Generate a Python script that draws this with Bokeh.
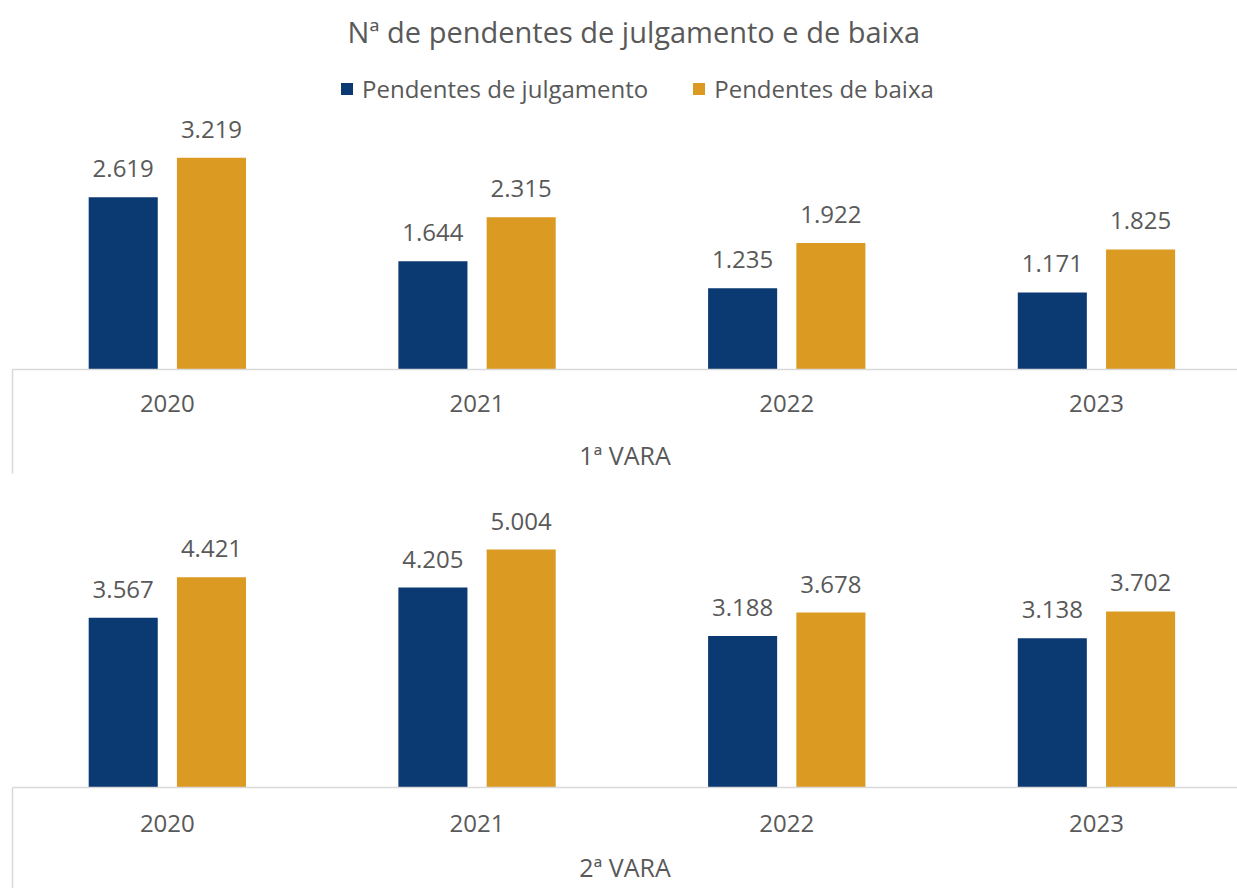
from bokeh.plotting import figure
from bokeh.models import ColumnDataSource, FixedTicker, Legend, LegendItem
from bokeh.transform import dodge
from bokeh.layouts import column
from bokeh.core.properties import value
from bokeh.embed import file_html
from bokeh.resources import INLINE

years = ["2020", "2021", "2022", "2023"]
vara1_julgamento = [2619, 1644, 1235, 1171]
vara1_baixa = [3219, 2315, 1922, 1825]
vara2_julgamento = [3567, 4205, 3188, 3138]
vara2_baixa = [4421, 5004, 3678, 3702]
series_names = ["Pendentes de julgamento", "Pendentes de baixa"]
group_names = ["1ª VARA", "2ª VARA"]
title_text = "Nª de pendentes de julgamento e de baixa"

BLUE = "#0B3A73"
ORANGE = "#DB9A22"
GRAY = "#595959"
AXIS = "#D9D9D9"
FONT = "Open Sans"
W = 1237
LEFT = 12
PX_PER_CAT = 309.7
BAR_W = 0.223
OFF = 0.1425


def fmt(v):
    return f"{v:,}".replace(",", ".")


def panel(julg, baixa, group, height, top, bottom, yend, tick_out, lab_standoff,
          axlab_standoff, with_title):
    src = ColumnDataSource(dict(
        x=list(range(len(years))),
        j=julg, b=baixa,
        jl=[fmt(v) for v in julg], bl=[fmt(v) for v in baixa],
    ))
    p = figure(width=W, height=height, output_backend="svg", toolbar_location=None,
               x_range=(-0.5, -0.5 + (W - LEFT) / PX_PER_CAT), y_range=(0, yend),
               min_border_left=LEFT, min_border_right=0, min_border_top=top,
               min_border_bottom=bottom, outline_line_color=None)
    r1 = p.vbar(x=dodge("x", -OFF, range=p.x_range), top="j", width=BAR_W, bottom=0,
                source=src, fill_color=BLUE, line_color=None)
    r2 = p.vbar(x=dodge("x", OFF, range=p.x_range), top="b", width=BAR_W, bottom=0,
                source=src, fill_color=ORANGE, line_color=None)
    for col, lab, off in (("j", "jl", -OFF), ("b", "bl", OFF)):
        p.text(x=dodge("x", off, range=p.x_range), y=col, text=lab, source=src,
               text_align="center", text_baseline="bottom", y_offset=-20,
               text_font=value(FONT), text_font_size="24px", text_color=GRAY)
    p.yaxis.visible = False
    p.xgrid.visible = False
    p.ygrid.visible = False
    ax = p.xaxis[0]
    ax.ticker = FixedTicker(ticks=[0, 1, 2, 3], minor_ticks=[-0.5])
    ax.major_label_overrides = {i: y for i, y in enumerate(years)}
    ax.axis_line_color = AXIS
    ax.axis_line_width = 1.5
    ax.major_tick_line_color = None
    ax.minor_tick_in = 0
    ax.minor_tick_out = tick_out
    ax.minor_tick_line_color = AXIS
    ax.minor_tick_line_width = 1.5
    ax.major_label_standoff = lab_standoff - tick_out
    ax.major_label_text_font = FONT
    ax.major_label_text_font_size = "24px"
    ax.major_label_text_color = GRAY
    ax.axis_label = group
    ax.axis_label_standoff = axlab_standoff
    ax.axis_label_text_font = FONT
    ax.axis_label_text_font_size = "25px"
    ax.axis_label_text_font_style = "normal"
    ax.axis_label_text_color = GRAY
    if with_title:
        p.title.text = title_text
        p.title.align = "left"
        p.title.text_font = FONT
        p.title.text_font_size = "29px"
        p.title.text_font_style = "normal"
        p.title.text_color = GRAY
        p.title.offset = 335
        p.title.standoff = 19
        leg = Legend(items=[LegendItem(label=series_names[0], renderers=[r1]),
                            LegendItem(label=series_names[1], renderers=[r2])],
                     orientation="horizontal", location=(327, 264),
                     padding=0, spacing=43, margin=0,
                     border_line_color=None, background_fill_alpha=0,
                     glyph_width=15, glyph_height=15, label_height=34,
                     label_standoff=8,
                     label_text_font=FONT, label_text_font_size="24px",
                     label_text_color=GRAY)
        p.add_layout(leg)
    return p


p1 = panel(vara1_julgamento, vara1_baixa, group_names[0], 485, 58, 116,
           311 / 0.0662, 104, 25, 23, True)
p2 = panel(vara2_julgamento, vara2_baixa, group_names[1], 403, 0, 101,
           302 / 0.04756, 101, 27, 15, False)

layout = column(p1, p2, spacing=0)
open("out.html", "w").write(file_html(layout, INLINE))
